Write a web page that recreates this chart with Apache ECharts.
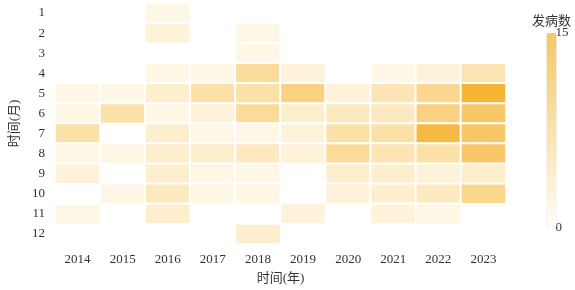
<!DOCTYPE html>
<html>
<head>
<meta charset="utf-8">
<script src="https://cdn.jsdelivr.net/npm/echarts@6/dist/echarts.min.js"></script>
<style>
  html, body { margin: 0; padding: 0; background: #fff; }
  #chart { width: 575px; height: 290px; }
</style>
</head>
<body>
<div id="chart"></div>
<script>
// 年份（x 轴）与月份（y 轴）
const years = ['2014', '2015', '2016', '2017', '2018', '2019', '2020', '2021', '2022', '2023']
const months = ['1', '2', '3', '4', '5', '6', '7', '8', '9', '10', '11', '12']

// 每月发病数，行 = 月份，列 = 年份；null 表示无病例
const cases = [
  [null, null, 1, null, null, null, null, null, null, null],
  [null, null, 2, null, 1, null, null, null, null, null],
  [null, null, null, null, 1, null, null, null, null, null],
  [null, null, 1, 1, 7, 2, null, 1, 2, 5],
  [1, 1, 3, 6, 6, 9, 2, 5, 8, 15],
  [1, 6, 1, 2, 7, 3, 4, 4, 9, 11],
  [6, null, 3, 1, 1, 2, 6, 6, 14, 11],
  [1, 1, 3, 3, 4, 2, 7, 5, 6, 11],
  [2, null, 3, 1, 1, null, 3, 3, 2, 3],
  [null, 1, 4, 1, 1, null, 2, 3, 4, 8],
  [1, null, 3, null, null, 2, null, 2, 1, null],
  [null, null, null, null, 3, null, null, null, null, null]
]

const data = []
cases.forEach((row, m) => {
  row.forEach((v, y) => {
    if (v !== null) data.push([y, m, v])
  })
})

const font = "'Liberation Serif', 'DejaVu Serif', 'Noto Sans CJK SC', serif"
const chart = echarts.init(document.getElementById('chart'))

chart.setOption({
  textStyle: { fontFamily: font },
  grid: { left: 52, right: 69, top: 3, bottom: 37 },
  xAxis: {
    type: 'category',
    data: years,
    name: '时间(年)',
    nameLocation: 'middle',
    nameGap: 28,
    nameTextStyle: { color: '#333', fontSize: 13, fontFamily: font },
    axisLine: { show: false },
    axisTick: { show: false },
    axisLabel: { color: '#333', fontSize: 13, margin: 9, fontFamily: font },
    splitArea: { show: false }
  },
  yAxis: {
    type: 'category',
    data: months,
    inverse: true,
    name: '时间(月)',
    nameLocation: 'middle',
    nameGap: 34,
    nameTextStyle: { color: '#333', fontSize: 13, fontFamily: font },
    axisLine: { show: false },
    axisTick: { show: false },
    axisLabel: { color: '#333', fontSize: 13, margin: 10, fontFamily: font },
    splitArea: { show: false }
  },
  visualMap: {
    type: 'continuous',
    min: 0,
    max: 15,
    orient: 'vertical',
    align: 'left',
    right: -11,
    top: 0,
    itemWidth: 10,
    itemHeight: 195,
    calculable: true,
    handleSize: '40%',
    text: ['发病数', ''],
    textGap: 5,
    textStyle: { color: '#333', fontSize: 13, fontFamily: font },
    handleStyle: { opacity: 0 },
    indicatorStyle: { opacity: 0 },
    inRange: { color: ['#fffcf3', '#f5b535'] },
    controller: { inRange: { color: ['#fffdf8', '#f3c865'] } }
  },
  series: [
    {
      type: 'heatmap',
      data: data,
      itemStyle: { borderColor: '#fff', borderWidth: 2 },
      emphasis: { disabled: true }
    }
  ]
})
</script>
</body>
</html>
